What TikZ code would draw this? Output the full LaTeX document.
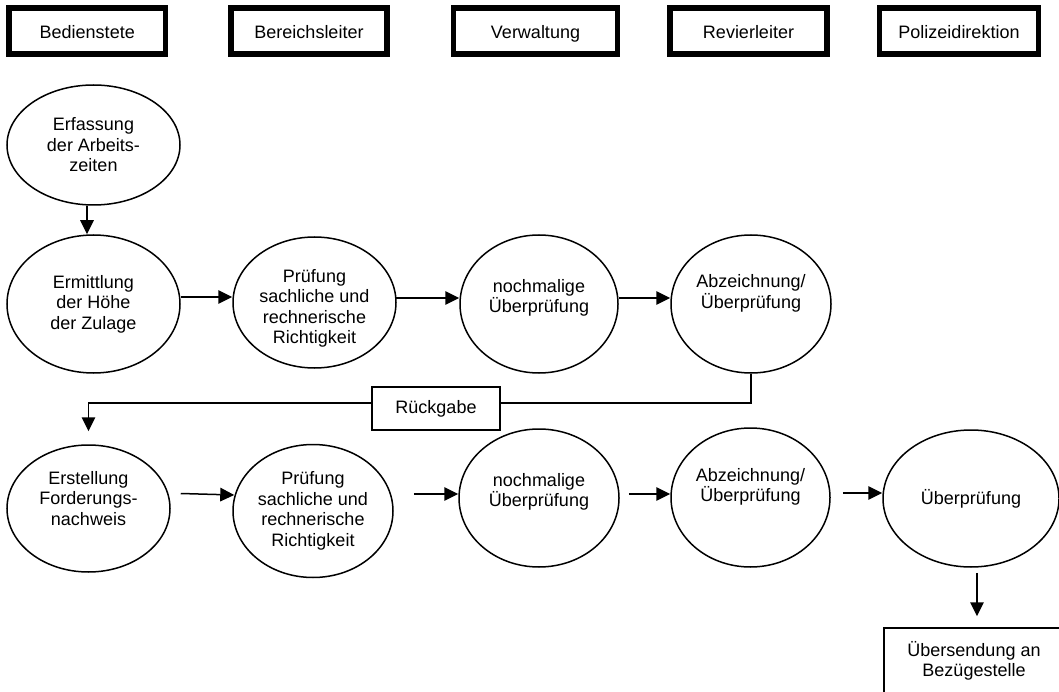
\documentclass[tikz,border=0pt]{standalone}
\usepackage{fontspec}
\setmainfont{Liberation Sans}
\usetikzlibrary{shapes.geometric, arrows.meta}

\begin{document}
\begin{tikzpicture}[x=1pt, y=-1pt,
  font=\fontsize{18pt}{20.5pt}\selectfont,
  hdr/.style={draw, line width=5.5pt, minimum height=46pt, inner sep=0pt,
    text height=16.4pt, text depth=0pt},
  proc/.style={draw, ellipse, line width=1.5pt, inner sep=0pt, align=center},
  box/.style={draw, rectangle, line width=1.5pt, inner sep=0pt, align=center},
  arr/.style={line width=1.5pt, -{Triangle[length=14pt,width=13.5pt]}}]
\useasboundingbox (0,0) rectangle (1059,692);
\clip (0,0) rectangle (1059,692);

% header
\foreach \i/\x/\w/\t in {1/87.25/156.5/Bedienstete, 2/309/156/Bereichsleiter,
    3/535.5/164/Verwaltung, 4/748.5/157/Revierleiter, 5/959/159/Polizeidirektion}
  \node[hdr, minimum width=\w pt] (h\i) at (\x,30.8) {\t};

% first row
\node[proc, minimum width=173pt, minimum height=120pt] (erf) at (93.5,145) {Erfassung\\der Arbeits-\\zeiten};
\node[proc, minimum width=173pt, minimum height=138pt] (erm) at (93.5,304) {Ermittlung\\der Höhe\\der Zulage};
\node[proc, minimum width=163pt, minimum height=131pt] (pr1) at (314.5,302.5) {\mbox{}\\[4.7pt]Prüfung\\sachliche und\\rechnerische\\Richtigkeit};
\node[proc, minimum width=158pt, minimum height=138pt] (noch1) at (539,304) {nochmalige\\Überprüfung\\[-4.5pt]\mbox{}};
\node[proc, minimum width=160pt, minimum height=138pt] (abz1) at (751,304) {Abzeichnung/\\Überprüfung\\[5pt]\mbox{}};

\draw[arr] ([xshift=-6.5pt]erf.south) -- ([xshift=-6.5pt]erm.north);
\draw[arr] ([yshift=7pt]erm.east) -- ([yshift=5.5pt]pr1.west);
\draw[arr] ([xshift=-2pt,yshift=4.5pt]pr1.east) -- ([yshift=6pt]noch1.west);
\draw[arr] ([yshift=6pt]noch1.east) -- ([yshift=6pt]abz1.west);

% back to the start
\node[box, minimum width=128pt, minimum height=43pt] (rueck) at (436,408.5) {Rückgabe};

% second row
\node[proc, minimum width=163pt, minimum height=127pt] (erst) at (88.5,508.5) {Erstellung\\Forderungs-\\nachweis\\\mbox{}};
\node[proc, minimum width=160pt, minimum height=133pt] (pr2) at (313,511) {Prüfung\\sachliche und\\rechnerische\\Richtigkeit};
\node[proc, minimum width=160pt, minimum height=138pt] (noch2) at (539,498) {nochmalige\\Überprüfung\\[-4.5pt]\mbox{}};
\node[proc, minimum width=159pt, minimum height=139pt] (abz2) at (750.5,497.5) {Abzeichnung/\\Überprüfung\\[5pt]\mbox{}};
\node[proc, minimum width=176pt, minimum height=137pt] (ueb) at (971,498.5) {Überprüfung};
\node[box, minimum width=180pt, minimum height=66pt] (send) at (974,661) {Übersendung an\\Bezügestelle};

\draw[line width=1.5pt] (abz1.south) |- ([yshift=5.5pt]rueck.east);
\draw[arr, shorten >=13pt] ([yshift=5.5pt]rueck.west) -| (erst.north);

\draw[arr] ([xshift=10pt,yshift=15pt]erst.east) -- ([xshift=2pt,yshift=16pt]pr2.west);
\draw[arr] ([xshift=20pt,yshift=17pt]pr2.east) -- ([yshift=4pt]noch2.west);
\draw[arr] ([xshift=9pt,yshift=4pt]noch2.east) -- ([yshift=3.5pt]abz2.west);
\draw[arr] ([xshift=12pt,yshift=4.5pt]abz2.east) -- ([yshift=5.5pt]ueb.west);
\draw[arr, shorten <=5pt, shorten >=11pt] ([xshift=6pt]ueb.south) -- ([xshift=3pt]send.north);
\end{tikzpicture}
\end{document}
